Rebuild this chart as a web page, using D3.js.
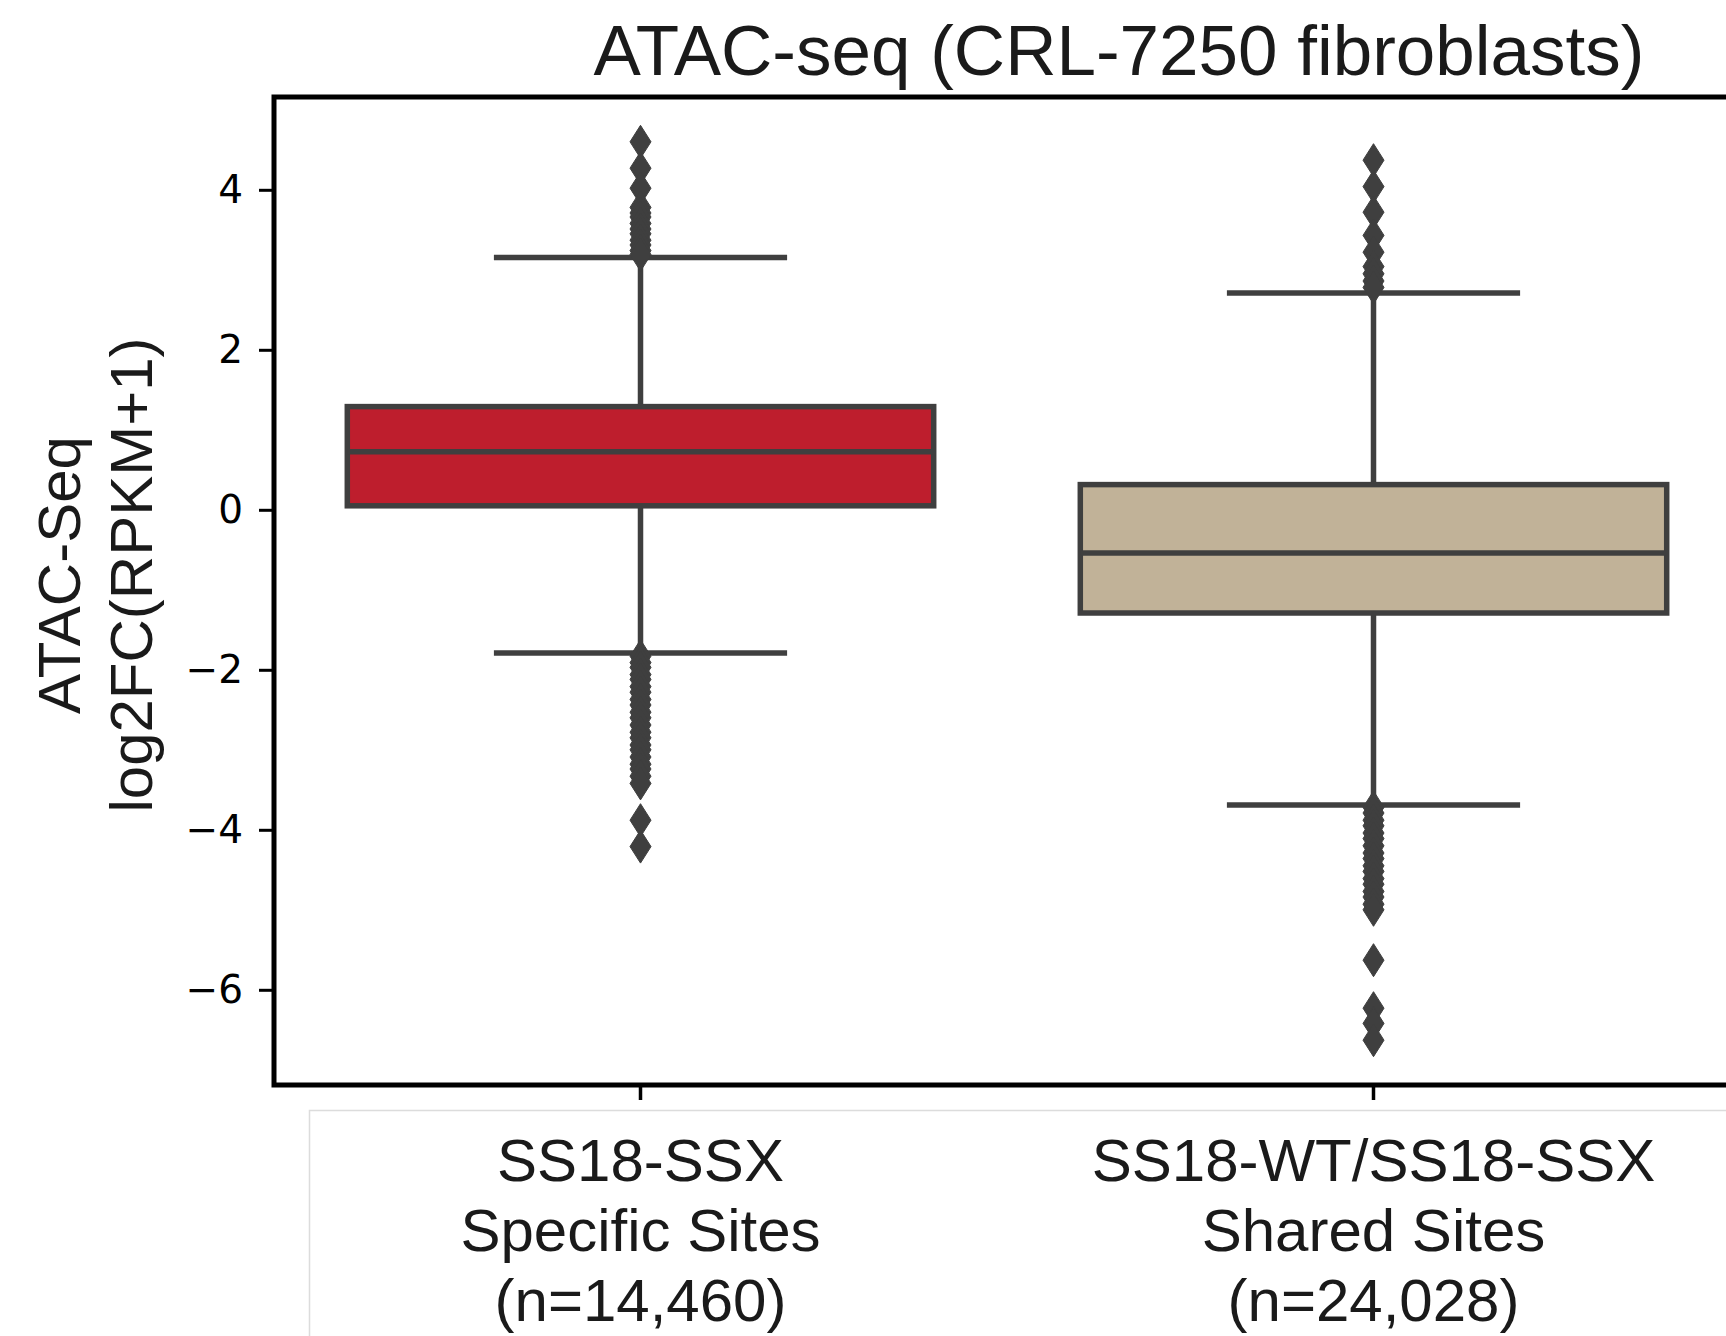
<!DOCTYPE html>
<html>
<head>
<meta charset="utf-8">
<script src="https://cdn.jsdelivr.net/npm/d3@7"></script>
<style>
  html, body { margin: 0; padding: 0; background: #ffffff; }
  svg { display: block; }
</style>
</head>
<body>
<svg id="chart" width="1726" height="1336"></svg>
<script>
// ATAC-seq log2 fold change, SS18-SSX specific vs shared sites
const categories = ["specific", "shared"];
const categoryLabels = [
  ["SS18-SSX", "Specific Sites", "(n=14,460)"],
  ["SS18-WT/SS18-SSX", "Shared Sites", "(n=24,028)"]
];
const boxColors = ["#BE1E2D", "#C1B298"];

// box statistics per category
const q1 = [0.05, -1.29];
const median = [0.725, -0.54];
const q3 = [1.29, 0.315];
const whiskerLow = [-1.79, -3.69];
const whiskerHigh = [3.155, 2.71];

// outlying sites per category
const fliersSpecific = [
  4.60, 4.27, 4.02, 3.78, 3.71, 3.66, 3.58, 3.51, 3.45, 3.37, 3.31, 3.24, 3.19,
  -1.83, -1.91, -1.97, -2.06, -2.12, -2.21, -2.28, -2.37, -2.44, -2.53, -2.60,
  -2.69, -2.78, -2.85, -2.94, -3.00, -3.09, -3.18, -3.24, -3.33, -3.42, -3.88, -4.21
];
const fliersShared = [
  4.37, 4.04, 3.72, 3.43, 3.22, 3.04, 2.95, 2.86, 2.78,
  -3.72, -3.79, -3.88, -3.95, -4.04, -4.11, -4.20, -4.29, -4.36, -4.45, -4.52,
  -4.61, -4.68, -4.77, -4.84, -4.93, -5.00, -5.63, -6.23, -6.42, -6.63
];
const fliers = [fliersSpecific, fliersShared];

const yTicks = [-6, -4, -2, 0, 2, 4];
const yDomain = [-7.19, 5.16];

const title = "ATAC-seq (CRL-7250 fibroblasts)";
const yLabelLines = ["ATAC-Seq", "log2FC(RPKM+1)"];

// layout
const W = 1726, H = 1336;
const plot = { left: 274, right: 1740, top: 97, bottom: 1085 };
const lineColor = "#3f3f3f";
const textFont = "'Liberation Sans', Arial, Helvetica, sans-serif";
const tickFont = "'DejaVu Sans', sans-serif";

const svg = d3.select("#chart");
svg.append("rect").attr("width", W).attr("height", H).attr("fill", "#ffffff");

const x = d3.scaleBand().domain(categories).range([plot.left, plot.right]).padding(0);
const y = d3.scaleLinear().domain(yDomain).range([plot.bottom, plot.top]);
const bw = x.bandwidth();
const boxW = bw * 0.8;
const capW = bw * 0.4;
const cx = c => x(c) + bw / 2;

const g = svg.append("g");

// boxes, whiskers, caps, medians
categories.forEach((c, i) => {
  const xc = cx(c);
  // whiskers
  g.append("line")
    .attr("x1", xc).attr("x2", xc)
    .attr("y1", y(q3[i])).attr("y2", y(whiskerHigh[i]))
    .attr("stroke", lineColor).attr("stroke-width", 5.5);
  g.append("line")
    .attr("x1", xc).attr("x2", xc)
    .attr("y1", y(q1[i])).attr("y2", y(whiskerLow[i]))
    .attr("stroke", lineColor).attr("stroke-width", 5.5);
  // caps
  [whiskerHigh[i], whiskerLow[i]].forEach(v => {
    g.append("line")
      .attr("x1", xc - capW / 2).attr("x2", xc + capW / 2)
      .attr("y1", y(v)).attr("y2", y(v))
      .attr("stroke", lineColor).attr("stroke-width", 5.5);
  });
  // box
  g.append("rect")
    .attr("x", xc - boxW / 2)
    .attr("y", y(q3[i]))
    .attr("width", boxW)
    .attr("height", y(q1[i]) - y(q3[i]))
    .attr("fill", boxColors[i])
    .attr("stroke", lineColor).attr("stroke-width", 5.5);
  // median
  g.append("line")
    .attr("x1", xc - boxW / 2).attr("x2", xc + boxW / 2)
    .attr("y1", y(median[i])).attr("y2", y(median[i]))
    .attr("stroke", lineColor).attr("stroke-width", 5.5);
});

// thin diamond marker for outliers
const diamond = (hw, hh) => {
  const p = d3.path();
  p.moveTo(0, -hh); p.lineTo(hw, 0); p.lineTo(0, hh); p.lineTo(-hw, 0); p.closePath();
  return p.toString();
};
const markerPath = diamond(10.5, 16.5);

categories.forEach((c, i) => {
  g.selectAll(null)
    .data(fliers[i])
    .enter()
    .append("path")
    .attr("d", markerPath)
    .attr("transform", d => `translate(${cx(c)},${y(d)})`)
    .attr("fill", lineColor)
    .attr("stroke", lineColor)
    .attr("stroke-width", 1);
});

// frame
svg.append("rect")
  .attr("x", plot.left).attr("y", plot.top)
  .attr("width", plot.right - plot.left)
  .attr("height", plot.bottom - plot.top)
  .attr("fill", "none")
  .attr("stroke", "#000").attr("stroke-width", 5);

// y axis
const yAxis = d3.axisLeft(y).tickValues(yTicks).tickSize(15).tickPadding(16)
  .tickFormat(d3.format("d"));
const yAxisG = svg.append("g")
  .attr("transform", `translate(${plot.left},0)`)
  .call(yAxis);
yAxisG.select(".domain").remove();
yAxisG.selectAll(".tick line").attr("stroke", "#000").attr("stroke-width", 3);
yAxisG.selectAll(".tick text")
  .attr("font-family", tickFont).attr("font-size", 39).attr("fill", "#000")
  .text(d => d < 0 ? "\u2212" + Math.abs(d) : String(d));

// x axis ticks
const xAxis = d3.axisBottom(x).tickSize(15).tickFormat("");
const xAxisG = svg.append("g")
  .attr("transform", `translate(0,${plot.bottom})`)
  .call(xAxis);
xAxisG.select(".domain").remove();
xAxisG.selectAll(".tick line").attr("stroke", "#000").attr("stroke-width", 3.5);

// light outline around the category labels
svg.append("rect")
  .attr("x", 309.5).attr("y", 1110.5)
  .attr("width", W).attr("height", H)
  .attr("fill", "none")
  .attr("stroke", "#dcdcdc").attr("stroke-width", 1.5);

// category labels
categories.forEach((c, i) => {
  const t = svg.append("text")
    .attr("font-family", textFont).attr("font-size", 60)
    .attr("fill", "#1a1a1a")
    .attr("text-anchor", "middle");
  categoryLabels[i].forEach((line, k) => {
    t.append("tspan")
      .attr("x", cx(c))
      .attr("y", 1181 + k * 70)
      .text(line);
  });
});

// y label
const yl = svg.append("text")
  .attr("transform", "translate(0,575) rotate(-90)")
  .attr("font-family", textFont).attr("font-size", 60)
  .attr("fill", "#1a1a1a")
  .attr("text-anchor", "middle");
yLabelLines.forEach((line, k) => {
  yl.append("tspan").attr("x", 0).attr("y", 80 + k * 71.5).text(line);
});

// title
svg.append("text")
  .attr("x", 1119).attr("y", 75)
  .attr("font-family", textFont).attr("font-size", 71)
  .attr("fill", "#1a1a1a")
  .attr("text-anchor", "middle")
  .text(title);
</script>
</body>
</html>
